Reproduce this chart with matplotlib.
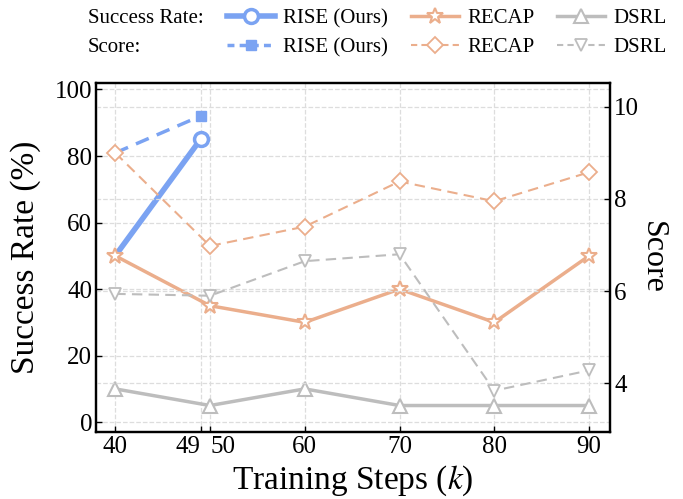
import matplotlib
matplotlib.use("Agg")
import matplotlib.pyplot as plt
from matplotlib.lines import Line2D

plt.rcParams['font.family'] = ['Liberation Serif', 'DejaVu Serif']
plt.rcParams['mathtext.fontset'] = 'stix'

# data
steps = [40, 50, 60, 70, 80, 90]
rise_steps = [40, 49]
rise_sr = [50, 85]
rise_score = [9.0, 9.8]
recap_sr = [50, 35, 30, 40, 30, 50]
recap_score = [9.0, 6.98, 7.4, 8.38, 7.95, 8.58]
dsrl_sr = [10, 5, 10, 5, 5, 5]
dsrl_score = [5.94, 5.9, 6.65, 6.8, 3.84, 4.28]
xticks = [40, 49, 50, 60, 70, 80, 90]

blue = "#7BA3F2"
orange = "#EBAE8C"
gray = "#BDBDBD"

fig = plt.figure(figsize=(6.83, 4.99), dpi=100)
ax = fig.add_axes([0.141, 0.134, 0.752, 0.700])
ax2 = ax.twinx()

# success rate (left axis)
ax.plot(rise_steps, rise_sr, color=blue, lw=4, marker='o', ms=10, markevery=[1],
        mfc='white', mec=blue, mew=2.5, zorder=3)
ax.plot(steps, recap_sr, color=orange, lw=2.5, marker='*', ms=12,
        mfc='white', mec=orange, mew=1.5, zorder=4)
ax.plot(steps, dsrl_sr, color=gray, lw=2.5, marker='^', ms=10,
        mfc='white', mec=gray, mew=1.5, zorder=4)

# score (right axis)
ax2.plot(rise_steps, rise_score, color=blue, lw=2.5, ls=(0, (4, 2.5)),
         marker='s', ms=7, markevery=[1], mfc=blue, mec=blue, zorder=3)
ax2.plot(steps, recap_score, color=orange, lw=1.5, ls=(0, (5, 3)),
         marker='D', ms=8, mfc='white', mec=orange, mew=1.3, zorder=4)
ax2.plot(steps, dsrl_score, color=gray, lw=1.5, ls=(0, (5, 3)),
         marker='v', ms=9, mfc='white', mec=gray, mew=1.3, zorder=4)

ax.set_xlim(38, 92.2)
ax.set_ylim(-3, 102)
ax2.set_ylim(2.94, 10.52)
ax.set_xticks(xticks)
ax.set_yticks([0, 20, 40, 60, 80, 100])
ax2.set_yticks([4, 6, 8, 10])

ax.grid(True, ls='--', color='#DDDDDD', lw=0.9)
ax2.grid(True, axis='y', ls='--', color='#DDDDDD', lw=0.9)
ax.set_axisbelow(True)
ax2.set_axisbelow(True)

for a in (ax, ax2):
    for s in a.spines.values():
        s.set_linewidth(1.6)
    a.tick_params(direction='in', labelsize=18, length=4, width=1, pad=3)

# 49 and 50 sit close together: push them apart
xlabels = ax.get_xticklabels()
xlabels[1].set_horizontalalignment('right')
xlabels[2].set_horizontalalignment('left')

ax.set_xlabel("Training Steps ($k$)", fontsize=24, labelpad=4)
ax.set_ylabel("Success Rate (%)", fontsize=24, labelpad=10)
ax2.set_ylabel("Score", fontsize=23, rotation=270, labelpad=20)

blank = Line2D([], [], color='none')
handles = [
    blank, blank,
    Line2D([], [], color=blue, lw=4, marker='o', ms=10, mfc='white', mec=blue, mew=2.5),
    Line2D([], [], color=blue, lw=2.5, ls=(0, (2, 1.5)), marker='s', ms=7, mfc=blue, mec=blue),
    Line2D([], [], color=orange, lw=2.5, marker='*', ms=12, mfc='white', mec=orange, mew=1.5),
    Line2D([], [], color=orange, lw=1.5, ls=(0, (3, 2)), marker='D', ms=8, mfc='white', mec=orange, mew=1.3),
    Line2D([], [], color=gray, lw=2.5, marker='^', ms=10, mfc='white', mec=gray, mew=1.5),
    Line2D([], [], color=gray, lw=1.5, ls=(0, (3, 2)), marker='v', ms=9, mfc='white', mec=gray, mew=1.3),
]
labels = ["Success Rate:", "Score:", "RISE (Ours)", "RISE (Ours)",
          "RECAP", "RECAP", "DSRL", "DSRL"]
leg = fig.legend(handles, labels, ncol=4, loc='upper left',
                 bbox_to_anchor=(0.019, 1.02), frameon=False, fontsize=15,
                 handlelength=2.3, handletextpad=0.4, columnspacing=1.1,
                 labelspacing=0.45)

fig.savefig("out.png", dpi=100)
